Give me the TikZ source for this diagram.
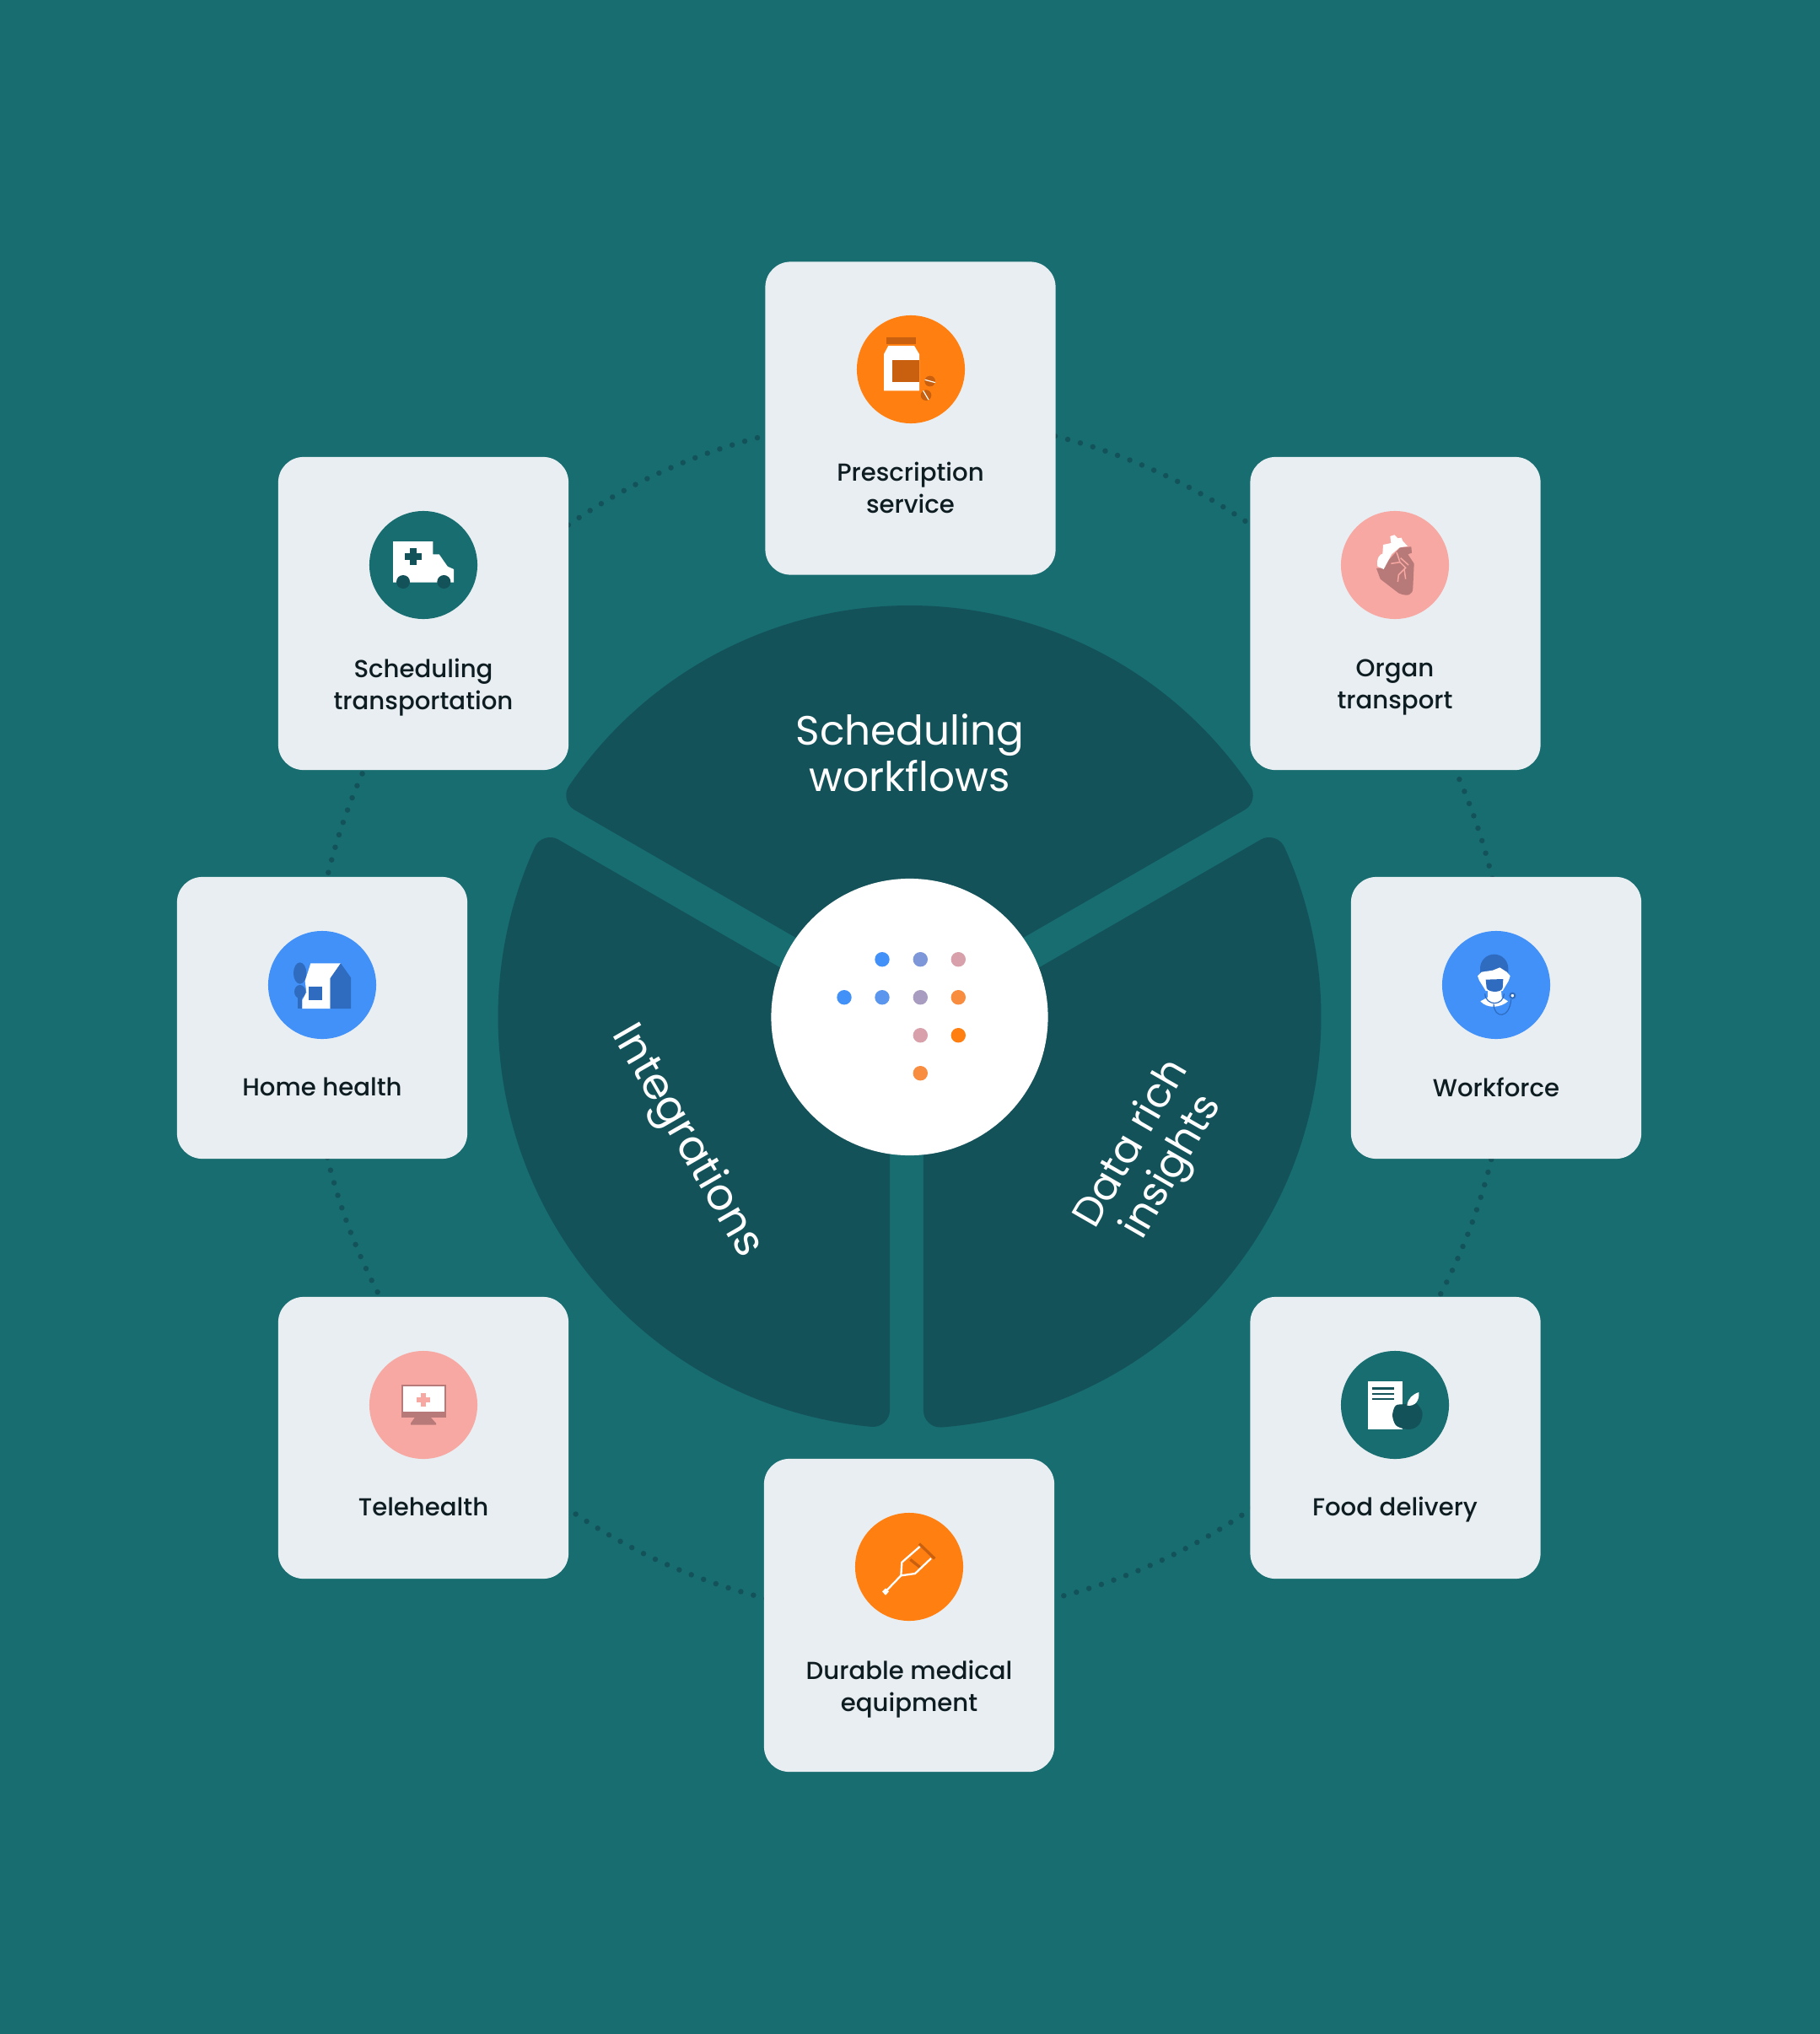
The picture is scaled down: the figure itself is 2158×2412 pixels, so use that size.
\documentclass[tikz,border=0pt]{standalone}
\usepackage{fontspec}
\setmainfont{Poppins}
\newfontfamily\labelfont{Poppins Medium}
\newfontfamily\bigfont{Poppins}
\definecolor{bgteal}{HTML}{176D70}
\definecolor{deepteal}{HTML}{14525A}
\definecolor{cardgrey}{HTML}{E9EEF2}
\definecolor{inkdark}{HTML}{0E1D22}
\definecolor{iconorange}{HTML}{FF7F11}
\definecolor{iconburnt}{HTML}{C9600F}
\definecolor{iconblue}{HTML}{4191F9}
\definecolor{iconnavy}{HTML}{2F6CBF}
\definecolor{iconpink}{HTML}{F7A8A3}
\definecolor{iconrose}{HTML}{B87A78}
\definecolor{logoa}{HTML}{7E97D8}
\definecolor{logob}{HTML}{D8A0AA}
\definecolor{logoc}{HTML}{5A95EE}
\definecolor{logod}{HTML}{A89CC0}
\definecolor{logoe}{HTML}{F88C3F}
\tikzset{
  card/.style={fill=cardgrey, rounded corners=0.3cm, minimum width=3.44cm, inner sep=0pt},
  tallcard/.style={card, minimum height=3.71cm},
  lowcard/.style={card, minimum height=3.34cm},
  iconball/.style={circle, minimum size=1.28cm, inner sep=0pt},
  cardlabel/.style={font=\labelfont\fontsize{8.3}{10.85}\selectfont, text=inkdark, align=center, inner sep=0pt},
  bigword/.style={font=\bigfont\fontsize{13.8}{15.7}\selectfont, text=white, align=center, inner sep=0pt},
  wedgeshape/.style={fill=deepteal, draw=deepteal, line width=0.4cm, line join=round},
  dot/.style={circle, minimum size=0.174cm, inner sep=0pt},
}
\begin{document}
\begin{tikzpicture}[x=0.01cm, y=-0.01cm]
\useasboundingbox (0,0) rectangle (2158,2412);
\fill[bgteal] (0,0) rectangle (2158,2412);
\coordinate (hub) at (1078.5,1206);
% dotted ring behind the cards
\draw[deepteal, line width=0.065cm, line cap=round, dash pattern=on 0pt off 0.155cm] (hub) circle[radius=710];
% three wedges
\begin{scope}[shift={(hub)}]
\draw[wedgeshape] (0,-39.3) -- (-34.17:468) arc[start angle=-34.17, end angle=-145.83, radius=468] -- cycle;
\draw[wedgeshape] (-43.5,28) -- (204.36:468) arc[start angle=204.36, end angle=95.33, radius=468] -- cycle;
\draw[wedgeshape] (36.5,32) -- (-24.36:468) arc[start angle=-24.36, end angle=85.53, radius=468] -- cycle;
\end{scope}
\node[circle, fill=white, minimum size=3.28cm, inner sep=0pt] (core) at (hub) {};
% dots of the logo
\node[dot, fill=iconblue] (d1) at (1046,1137.7) {};
\node[dot, fill=logoa] (d2) at (1091.3,1137.7) {};
\node[dot, fill=logob] (d3) at (1136.3,1137.7) {};
\node[dot, fill=iconblue] (d4) at (1001,1182.7) {};
\node[dot, fill=logoc] (d5) at (1046,1182.7) {};
\node[dot, fill=logod] (d6) at (1091.3,1182.7) {};
\node[dot, fill=logoe] (d7) at (1136.3,1182.7) {};
\node[dot, fill=logob] (d8) at (1091.3,1227.7) {};
\node[dot, fill=iconorange] (d9) at (1136.3,1227.7) {};
\node[dot, fill=logoe] (d10) at (1091.3,1272.7) {};
% words on the wedges
\node[bigword] (flows) at (1079,893) {Scheduling\\workflows};
\node[bigword, rotate=-60, font=\bigfont\fontsize{14.6}{15.7}\selectfont] (integr) at (813.6,1354) {Integrations};
\node[bigword, rotate=60] (insights) at (1367,1371) {Data rich\\insights};
% cards
\node[tallcard] (prescr) at (1079.5,496) {};
\node[tallcard] (organ) at (1654.5,727.5) {};
\node[tallcard] (transp) at (502,727.5) {};
\node[lowcard] (home) at (382,1207) {};
\node[lowcard] (workf) at (1774,1207) {};
\node[lowcard] (tele) at (502,1705) {};
\node[lowcard] (food) at (1654.5,1705) {};
\node[tallcard] (crutch) at (1078,1915.5) {};
% circles of the icons
\node[iconball, fill=iconorange] (prescrball) at (1080,438) {};
\node[iconball, fill=bgteal] (transpball) at (502,670) {};
\node[iconball, fill=iconpink] (organball) at (1654,670) {};
\node[iconball, fill=iconblue] (homeball) at (382,1168) {};
\node[iconball, fill=iconblue] (workfball) at (1774,1168) {};
\node[iconball, fill=iconpink] (teleball) at (502,1666) {};
\node[iconball, fill=bgteal] (foodball) at (1654,1666) {};
\node[iconball, fill=iconorange] (crutchball) at (1078,1858) {};
% labels
\node[cardlabel] (prescrtext) at (1079.5,578) {Prescription\\service};
\node[cardlabel] (organtext) at (1654,815) {Organ\\transport};
\node[cardlabel] (transptext) at (502,815) {Scheduling\\transportation};
\node[cardlabel] (hometext) at (382,1289) {Home health};
\node[cardlabel] (workftext) at (1774,1289) {Workforce};
\node[cardlabel] (teletext) at (502,1787) {Telehealth};
\node[cardlabel] (foodtext) at (1654,1790) {Food delivery};
\node[cardlabel] (crutchtext) at (1078,2003) {Durable medical\\equipment};
% pill bottle
\begin{scope}[shift={(990,350)}, scale=1/3]
\fill[iconburnt] (183,150) rectangle (289,174);
\fill[white] (190,180) -- (282,180) -- (300,210) -- (300,340) -- (174,340) -- (174,210) -- cycle;
\fill[iconburnt] (205,232) rectangle (300,308);
\fill[iconburnt] (338,306) circle[radius=19];
\fill[iconburnt] (324,356) circle[radius=19];
\draw[white, line width=0.012cm] (320,301) -- (357,311);
\draw[white, line width=0.012cm] (314,340) -- (333,372);
\end{scope}
% ambulance
\begin{scope}[shift={(420,590)}, scale=1/3]
\fill[white] (138,156) -- (280,156) -- (280,202) -- (302,202) -- (332,245) -- (354,255) -- (354,302) -- (138,302) -- cycle;
\fill[deepteal] (199,180) rectangle (221,240);
\fill[deepteal] (180,199) rectangle (240,221);
\fill[deepteal] (174,300) circle[radius=24];
\fill[deepteal] (319,300) circle[radius=24];
\end{scope}
% heart
\begin{scope}[shift={(1570,540)}, scale=1/3]
\fill[iconrose] (186,402) -- (200,440) -- (265,490) .. controls (300,505) and (316,495) .. (316,470) -- (320,385) -- (298,352) -- (312,347) -- (310,325) -- (270,328) -- (205,400) -- cycle;
\fill[white] (190,395) .. controls (185,365) and (200,350) .. (208,350) -- (210,318) -- (238,312) -- (235,288) -- (250,283) -- (262,295) -- (275,293) -- (280,305) -- (297,323) -- (268,328) -- (240,352) -- (212,405) -- cycle;
\draw[iconpink, line width=0.015cm] (258,345) -- (270,380) -- (290,400) -- (265,425) -- (262,450);
\draw[iconpink, line width=0.015cm] (270,380) -- (238,385);
\draw[iconpink, line width=0.015cm] (272,365) -- (300,390);
\draw[iconpink, line width=0.015cm] (285,405) -- (290,440);
\end{scope}
% house and tree
\begin{scope}[shift={(300,1080)}, scale=1/3]
\fill[iconnavy] (160,300) rectangle (175,348);
\fill[iconnavy] (167,222) ellipse[x radius=23, y radius=38];
\fill[iconnavy] (167,288) ellipse[x radius=20, y radius=24];
\fill[white] (205,187) -- (312,187) -- (275,240) -- (275,348) -- (175,348) -- (175,318) -- (190,290) -- (185,250) -- cycle;
\fill[iconnavy] (312,187) -- (348,238) -- (348,348) -- (275,348) -- (275,240) -- cycle;
\fill[iconnavy] (199,271) rectangle (245,317);
\end{scope}
% nurse with stethoscope
\begin{scope}[shift={(1690,1080)}, scale=1/3]
\fill[iconnavy] (195,225) -- (195,205) arc[start angle=-180, end angle=0, radius=50] -- (295,225) -- cycle;
\fill[white] (222,285) -- (270,285) -- (272,308) -- (294,322) .. controls (270,345) and (220,350) .. (196,322) -- (222,308) -- cycle;
\fill[white] (186,232) -- (200,218) -- (240,212) -- (265,202) -- (290,218) -- (302,232) -- (296,250) -- (275,285) -- (215,285) -- (192,248) -- cycle;
\fill[iconnavy] (215,245) -- (277,243) -- (275,275) .. controls (270,292) and (225,292) .. (218,275) -- cycle;
\draw[iconnavy, line width=0.012cm] (212,295) .. controls (215,340) and (278,340) .. (280,295);
\draw[iconnavy, line width=0.012cm] (243,332) .. controls (245,385) and (300,385) .. (305,315);
\filldraw[fill=white, draw=iconnavy, line width=0.02cm] (310,302) circle[radius=9];
\end{scope}
% monitor
\begin{scope}[shift={(420,1575)}, scale=1/3]
\fill[iconrose] (168,200) rectangle (326,317);
\fill[white] (175,208) rectangle (320,297);
\fill[iconpink] (222,247) rectangle (270,263);
\fill[iconpink] (238,231) rectangle (254,279);
\fill[iconrose] (216,317) -- (272,317) -- (291,338) -- (291,344) -- (201,344) -- (201,338) -- cycle;
\end{scope}
% paper and apple
\begin{scope}[shift={(1570,1575)}, scale=1/3]
\fill[white] (156,188) rectangle (278,360);
\fill[deepteal] (171,211) rectangle (248,219);
\fill[deepteal] (171,230) rectangle (248,238);
\fill[deepteal] (171,248) rectangle (248,256);
\fill[deepteal] plot[smooth cycle] coordinates {(243,310) (255,275) (290,270) (325,265) (350,300) (340,340) (315,358) (285,358) (255,345)};
\fill[white] (295,275) .. controls (298,250) and (315,235) .. (337,228) .. controls (340,255) and (325,280) .. (295,275) -- cycle;
\end{scope}
% crutch
\begin{scope}[shift={(990,1770)}, scale=1/3]
\draw[iconburnt, line width=0.033cm] (300,182) -- (355,235);
\draw[iconburnt, line width=0.033cm] (268,238) -- (302,265);
\draw[white, line width=0.023cm, line join=round] (180,352) -- (235,295) -- (238,248) -- (302,192);
\draw[white, line width=0.023cm, line join=round] (235,295) -- (285,288) -- (342,234);
\fill[white] (180,340) -- (192,352) -- (180,365) -- (168,352) -- cycle;
\end{scope}
\end{tikzpicture}
\end{document}
